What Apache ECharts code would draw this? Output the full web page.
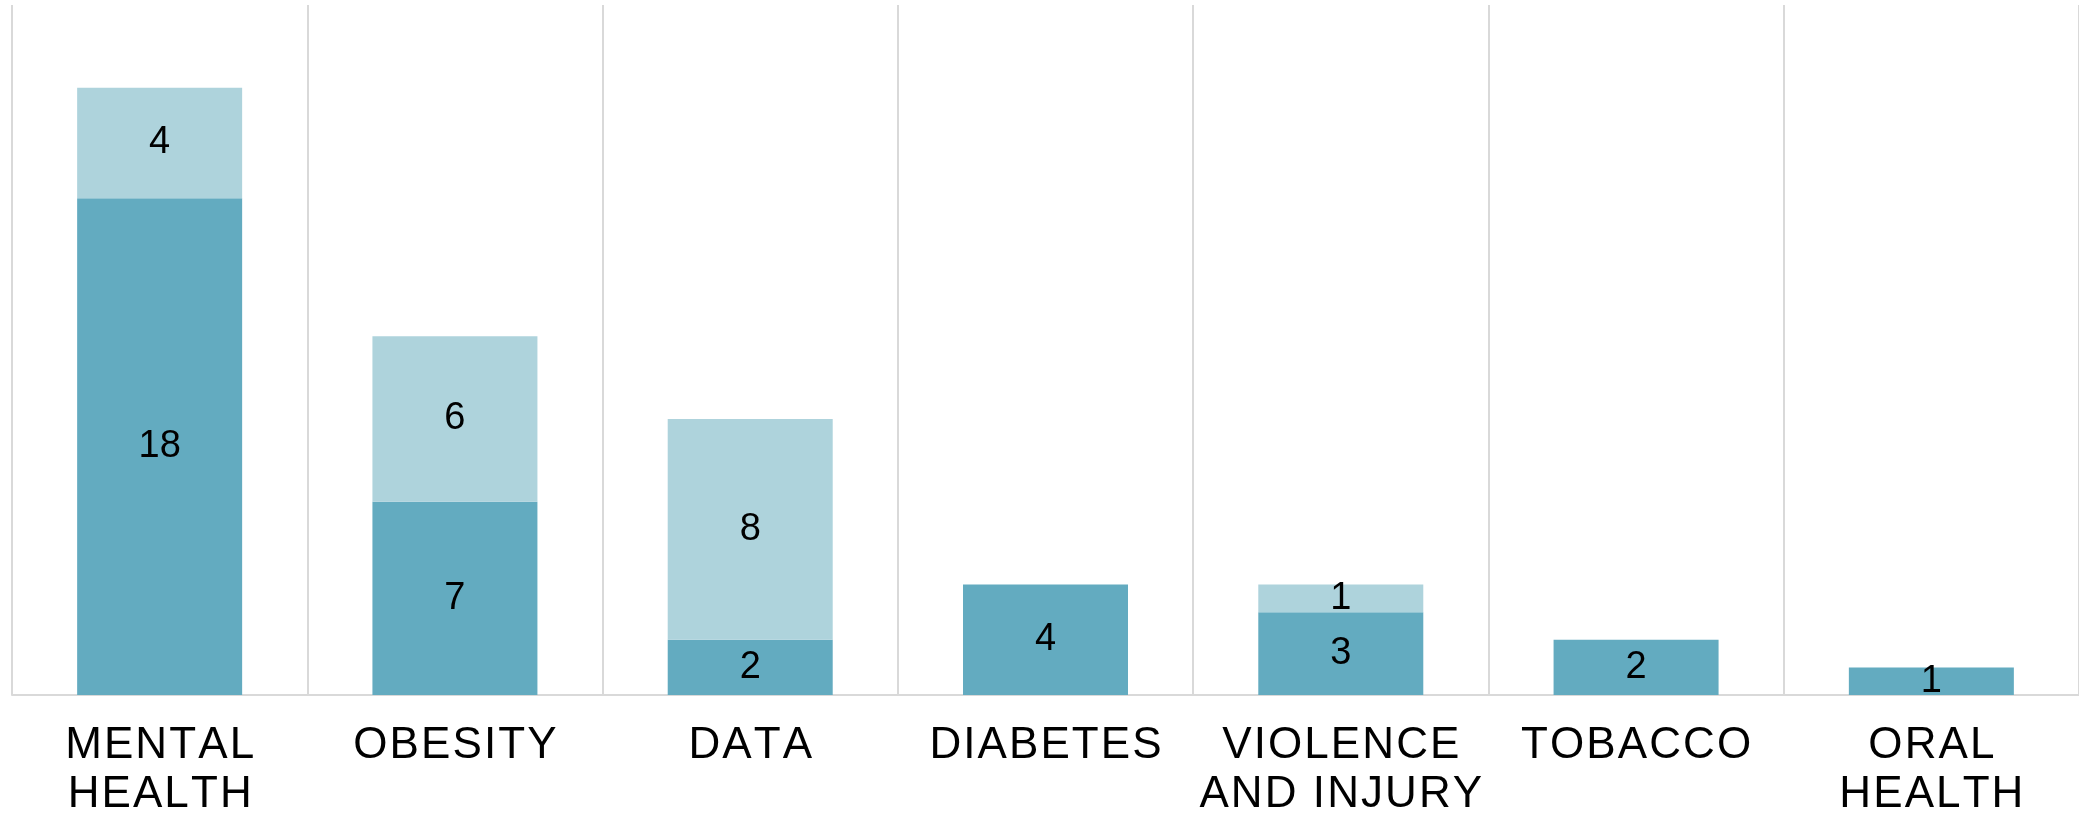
<!DOCTYPE html>
<html>
<head>
<meta charset="utf-8">
<script src="https://cdn.jsdelivr.net/npm/echarts@6/dist/echarts.min.js"></script>
<style>html,body{margin:0;padding:0;background:#fff;}#c{width:2079px;height:819px;}</style>
</head>
<body>
<div id="c"></div>
<script>
const categories = ['MENTAL\nHEALTH', 'OBESITY', 'DATA', 'DIABETES', 'VIOLENCE\nAND INJURY', 'TOBACCO', 'ORAL\nHEALTH'];
const darkValues = [18, 7, 2, 4, 3, 2, 1];
const lightValues = [4, 6, 8, 0, 1, 0, 0];

// widen letter spacing of category labels with small hair spaces (rich text)
const spaced = s => s.split('\n').map(line => Array.from(line).join('{s|\u200A}')).join('\n');

const chart = echarts.init(document.getElementById('c'));
const labelCfg = {
  show: true,
  position: 'inside',
  color: '#000',
  fontFamily: 'Liberation Sans, Arial, sans-serif',
  fontSize: 38,
  formatter: p => (p.value ? String(p.value) : '')
};
chart.setOption({
  animation: false,
  grid: { left: 12, right: -3, top: 5, bottom: 122, containLabel: false },
  xAxis: {
    type: 'category',
    data: categories,
    boundaryGap: true,
    axisLine: { show: true, lineStyle: { color: '#d9d9d9', width: 2 } },
    axisTick: { show: false },
    splitLine: { show: true, lineStyle: { color: '#d9d9d9', width: 2 } },
    axisLabel: {
      interval: 0,
      margin: 26,
      color: '#000',
      fontFamily: 'Liberation Sans, Arial, sans-serif',
      fontSize: 44,
      lineHeight: 49,
      formatter: v => spaced(v),
      rich: {
        s: { fontSize: 25, lineHeight: 49, fontFamily: 'Liberation Sans, Arial, sans-serif' }
      }
    }
  },
  yAxis: {
    type: 'value',
    min: 0,
    max: 25,
    show: false,
    splitLine: { show: false }
  },
  series: [
    {
      type: 'bar',
      stack: 'total',
      data: darkValues,
      barWidth: 165,
      itemStyle: { color: '#63abc0' },
      label: labelCfg
    },
    {
      type: 'bar',
      stack: 'total',
      data: lightValues,
      barWidth: 165,
      itemStyle: { color: '#aed3dc' },
      label: labelCfg
    }
  ]
});
</script>
</body>
</html>
